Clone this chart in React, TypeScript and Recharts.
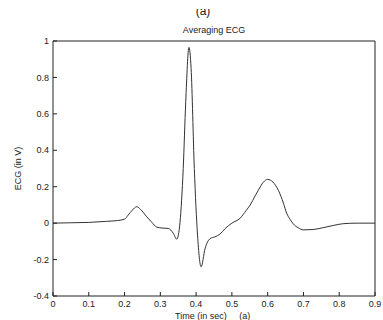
import { LineChart, Line, XAxis, YAxis, Label } from 'recharts'

// time in seconds
const TIME = [
  0, 0.05, 0.1, 0.15, 0.18, 0.2, 0.21, 0.222, 0.234, 0.245, 0.262, 0.276, 0.29, 0.305, 0.322, 0.336,
  0.346, 0.355, 0.364, 0.371, 0.38, 0.386, 0.395, 0.404, 0.414, 0.425, 0.439, 0.453, 0.467, 0.481,
  0.5, 0.523, 0.54, 0.551, 0.565, 0.574, 0.588, 0.6, 0.615, 0.63, 0.644, 0.653, 0.663, 0.672, 0.685,
  0.7, 0.727, 0.755, 0.783, 0.811, 0.85, 0.9,
]

// averaged ECG in volts
const ECG = [
  0, 0.002, 0.004, 0.01, 0.014, 0.022, 0.044, 0.072, 0.09, 0.075, 0.035, 0.005, -0.022, -0.027, -0.029, -0.055,
  -0.088, 0.005, 0.3, 0.667, 0.965, 0.85, 0.3, -0.066, -0.24, -0.14, -0.085, -0.075, -0.06, -0.03,
  0.0, 0.027, 0.07, 0.099, 0.15, 0.181, 0.225, 0.24, 0.225, 0.18, 0.11, 0.055, 0.02, -0.005, -0.025,
  -0.037, -0.035, -0.025, -0.013, -0.003, 0, 0,
]

const X_TICKS = [0, 0.1, 0.2, 0.3, 0.4, 0.5, 0.6, 0.7, 0.8, 0.9]
const Y_TICKS = [-0.4, -0.2, 0, 0.2, 0.4, 0.6, 0.8, 1]

const data = TIME.map((t, i) => ({ t, v: ECG[i] }))

const FONT = 'Liberation Sans, Arial, sans-serif'
const tickStyle = { fontSize: 9, fill: '#222', fontFamily: FONT }
const axisLine = { stroke: '#222', strokeWidth: 1 }

export default function App() {
  return (
    <div style={{ position: 'absolute', left: 0, top: 0, width: 383, height: 320, background: '#fff' }}>
      <LineChart width={383} height={320} data={data} margin={{ top: 40, right: 7, bottom: 0, left: 0 }}>
        <XAxis
          xAxisId="b"
          dataKey="t"
          type="number"
          domain={[0, 0.9]}
          ticks={X_TICKS}
          tickFormatter={(v) => String(v)}
          axisLine={axisLine}
          tickLine={axisLine}
          tickSize={-4}
          tickMargin={9}
          tick={tickStyle}
          height={24}
        />
        <XAxis
          xAxisId="top"
          orientation="top"
          dataKey="t"
          type="number"
          domain={[0, 0.9]}
          ticks={X_TICKS}
          axisLine={axisLine}
          tickLine={axisLine}
          tickSize={-4}
          tick={false}
          height={1}
        />
        <YAxis
          yAxisId="l"
          type="number"
          domain={[-0.4, 1]}
          ticks={Y_TICKS}
          tickFormatter={(v) => String(v)}
          axisLine={axisLine}
          tickLine={axisLine}
          tickSize={-4}
          tickMargin={8}
          tick={tickStyle}
          width={53}
        >
          <Label
            value="ECG (in V)"
            angle={-90}
            position="insideLeft"
            offset={0}
            style={{ fontSize: 9, fill: '#222', fontFamily: FONT, textAnchor: 'middle' }}
            dx={18}
          />
        </YAxis>
        <YAxis
          yAxisId="r"
          orientation="right"
          type="number"
          domain={[-0.4, 1]}
          ticks={Y_TICKS}
          axisLine={axisLine}
          tickLine={axisLine}
          tickSize={-4}
          tick={false}
          width={1}
        />
        <Line
          xAxisId="b"
          yAxisId="l"
          dataKey="v"
          type="monotone"
          stroke="#333"
          strokeWidth={1}
          dot={false}
          isAnimationActive={false}
        />
        <text x={214} y={33} textAnchor="middle" fontSize={9} fill="#222" fontFamily={FONT}>
          Averaging ECG
        </text>
        <text x={203} y={15} textAnchor="middle" fontSize={12} fill="#222" fontFamily={FONT}>
          (a)
        </text>
        <rect x={180} y={0} width={50} height={9} fill="#fff" />
        <text x={175} y={319} fontSize={9} fill="#222" fontFamily={FONT} xmlSpace="preserve">
          {'Time (in sec)     (a)'}
        </text>
      </LineChart>
    </div>
  )
}
